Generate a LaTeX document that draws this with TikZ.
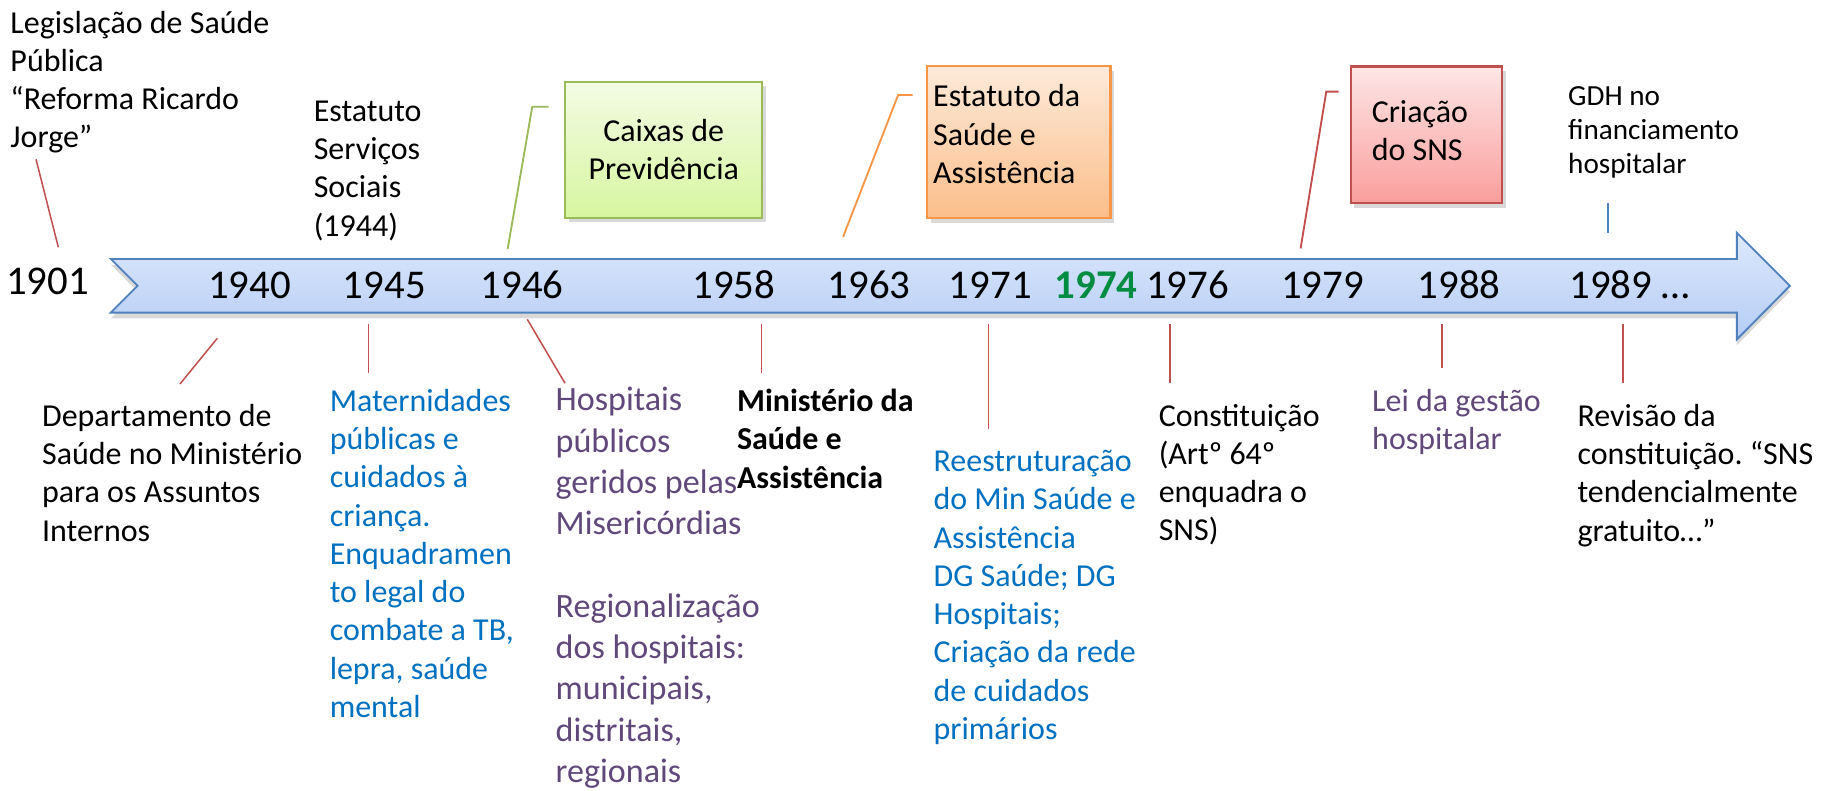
\documentclass[tikz,border=0pt]{standalone}
\usepackage{fontspec}
\setmainfont{Carlito}
\frenchspacing
\usetikzlibrary{shadows}
\definecolor{arrowtop}{RGB}{221,233,252}
\definecolor{arrowbot}{RGB}{181,204,245}
\definecolor{arrowline}{RGB}{79,129,189}
\definecolor{tickred}{RGB}{192,80,77}
\definecolor{tickblue}{RGB}{79,129,189}
\definecolor{txtblue}{RGB}{0,112,192}
\definecolor{txtpurple}{RGB}{96,73,122}
\definecolor{yrgreen}{RGB}{0,140,65}
\definecolor{grline}{RGB}{155,187,89}
\definecolor{grtop}{RGB}{243,251,228}
\definecolor{grbot}{RGB}{215,246,160}
\definecolor{orline}{RGB}{247,150,70}
\definecolor{ortop}{RGB}{253,234,218}
\definecolor{orbot}{RGB}{251,190,138}
\definecolor{rdline}{RGB}{192,80,77}
\definecolor{rdtop}{RGB}{253,230,230}
\definecolor{rdbot}{RGB}{249,158,156}

\begin{document}
\begin{tikzpicture}
  [x=.5pt,y=-.5pt,every node/.style={inner sep=0pt,font=\fontsize{13.7}{16.4}\selectfont},
   txt/.style={anchor=north west,align=left},
   yr/.style={font=\fontsize{17.5}{21}\selectfont},
   tick/.style={tickred,line width=.65pt},
   callout/.style={line width=.8pt},
   box/.style={draw,line width=.9pt,drop shadow={opacity=.3,shadow xshift=1.5pt,shadow yshift=-2pt}}]
  \useasboundingbox (0,0) rectangle (1568,678);

  % the time line
  \path[draw=arrowline,line width=.8pt,top color=arrowtop,bottom color=arrowbot,
    drop shadow={opacity=.3,shadow xshift=0pt,shadow yshift=-2.5pt}]
    (95,222) -- (1489,222) -- (1489,199.5) -- (1534.5,245) -- (1489,291)
    -- (1489,268) -- (95,268) -- (118,245) -- cycle;

  \node[yr] (y1901) at (40.7,241.5) {1901};
  \node[yr] (y1940) at (213.9,244.3) {1940};
  \node[yr] (y1945) at (329.5,244.3) {1945};
  \node[yr] (y1946) at (447.7,244.3) {1946};
  \node[yr] (y1958) at (629,244.3)   {1958};
  \node[yr] (y1963) at (745,244.3)   {1963};
  \node[yr] (y1971) at (849,244.3)   {1971};
  \node[yr,font=\fontsize{17.5}{21}\selectfont\bfseries,text=yrgreen] (y1974) at (939.8,244.3) {1974};
  \node[yr] (y1976) at (1018,244.3)  {1976};
  \node[yr] (y1979) at (1133.7,244.3) {1979};
  \node[yr] (y1988) at (1250.8,244.3) {1988};
  \node[yr,anchor=west] (y1989) at (1345,244.3) {1989 …};

  % boxes
  \node[box,draw=grline,top color=grtop,bottom color=grbot,minimum width=84.5pt,
    minimum height=58.3pt,align=center] (caixas) at (569,128.3) {Caixas de\\Previdência};
  \node[box,draw=orline,top color=ortop,bottom color=orbot,minimum width=78.5pt,
    minimum height=65pt,text width=73.5pt,align=flush left,text depth=39.7pt] (estatuto) at (873.5,121.8)
    {Estatuto da\\Saúde e\\Assistência};
  \node[box,draw=rdline,top color=rdtop,bottom color=rdbot,minimum width=65pt,
    minimum height=58.5pt,text width=47pt,align=flush left,text depth=20.1pt] (sns) at (1223,115.5)
    {Criação\\do SNS};

  % texts above
  \node[txt] (tleg) at (8.6,9) {Legislação de Saúde\\Pública\\“Reforma Ricardo\\Jorge”};
  \node[txt] (t1944) at (268.6,86) {Estatuto\\Serviços\\Sociais\\(1944)};
  \node[txt,font=\fontsize{12.5}{14.5}\selectfont] (tgdh) at (1344,73.7) {GDH no\\financiamento\\hospitalar};

  % texts below
  \node[txt] (tdept) at (35.7,346) {Departamento de\\Saúde no Ministério\\para os Assuntos\\Internos};
  \node[txt,text=txtblue] (tmat) at (282.3,333.2) {Maternidades\\públicas e\\cuidados à\\criança.\\Enquadramen\\to legal do\\combate a TB,\\lepra, saúde\\mental};
  \node[txt,text=txtpurple,font=\fontsize{14.6}{17.7}\selectfont] (thosp) at (476,331.7) {Hospitais\\públicos\\geridos pelas\\Misericórdias\\[17.7pt]Regionalização\\dos hospitais:\\municipais,\\distritais,\\regionais};
  \node[txt,font=\fontsize{13.7}{16.4}\selectfont\bfseries] (tmin) at (631.5,333.2) {Ministério da\\Saúde e\\Assistência};
  \node[txt,text=txtblue] (treest) at (800,385.5) {Reestruturação\\do Min Saúde e\\Assistência\\DG Saúde; DG\\Hospitais;\\Criação da rede\\de cuidados\\primários};
  \node[txt] (tconst) at (993,346) {Constituição\\(Artº 64º\\enquadra o\\SNS)};
  \node[txt,text=txtpurple] (tlei) at (1176,333.2) {Lei da gestão\\hospitalar};
  \node[txt] (trev) at (1352,346) {Revisão da\\constituição. “SNS\\tendencialmente\\gratuito…”};

  % connector ends
  \coordinate (a1901) at (30.9,136.6);  \coordinate (b1901) at (50,212);
  \coordinate (a1940) at (186.3,290);   \coordinate (b1940) at (154.3,329.2);
  \coordinate (a1945) at (315.8,277.8); \coordinate (b1945) at (315.8,320);
  \coordinate (a1946) at (452,273.7);   \coordinate (b1946) at (484.4,328.6);
  \coordinate (a1958) at (653,277.8);   \coordinate (b1958) at (653,320);
  \coordinate (a1971) at (847.5,277.8); \coordinate (b1971) at (847.5,368);
  \coordinate (a1976) at (1003,277.8);  \coordinate (b1976) at (1003,328.6);
  \coordinate (a1988) at (1236,277.8);  \coordinate (b1988) at (1236,315.7);
  \coordinate (a1989) at (1391.5,277.8); \coordinate (b1989) at (1391.5,328.6);
  \coordinate (g1989) at (1378.6,174);  \coordinate (h1989) at (1378.6,199.5);

  \coordinate (p1946) at (435.2,213.5); \coordinate (q1946) at (456.3,91.5); \coordinate (r1946) at (470.4,91.5);
  \coordinate (p1963) at (722.8,203);   \coordinate (q1963) at (770,81.4);   \coordinate (r1963) at (782.4,81.4);
  \coordinate (p1979) at (1115,213);    \coordinate (q1979) at (1137,78.6);  \coordinate (r1979) at (1147.6,78.6);

  \foreach \from/\to in {a1901/b1901,a1940/b1940,a1945/b1945,a1946/b1946,a1958/b1958,
    a1971/b1971,a1976/b1976,a1988/b1988,a1989/b1989}
    \draw[tick] (\from) -- (\to);
  \draw[tick,tickblue] (g1989) -- (h1989);

  \foreach \p/\q/\r/\c in {p1946/q1946/r1946/grline,p1963/q1963/r1963/orline,p1979/q1979/r1979/rdline}
    \draw[callout,\c] (\p) -- (\q) -- (\r);

\end{tikzpicture}
\end{document}
